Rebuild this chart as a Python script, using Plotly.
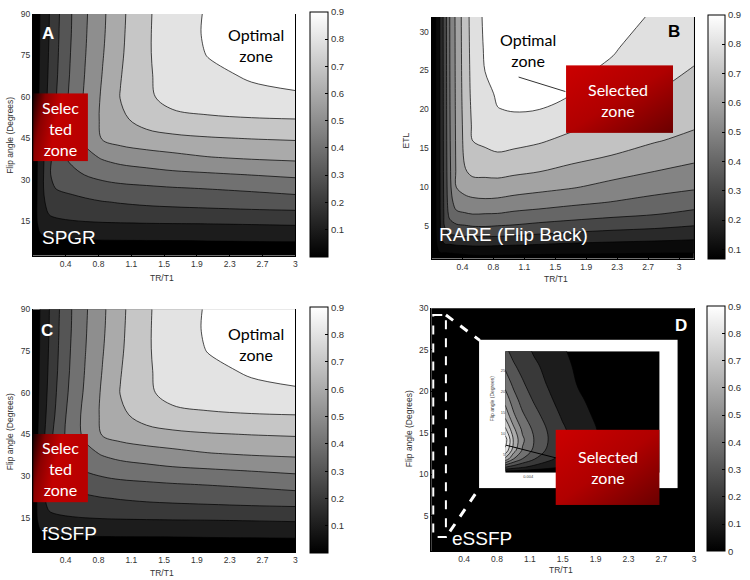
import base64
import plotly.graph_objects as go

W, H = 750, 580


def px(x):
    return x / W


def py(y):
    return 1 - y / H


# ---------------- data ----------------
tr_tickvals = [0.375, 0.75, 1.125, 1.5, 1.875, 2.25, 2.625, 3.0]
tr_ticktext = ["0.4", "0.8", "1.1", "1.5", "1.9", "2.3", "2.7", "3"]
flip_ticks = [15, 30, 45, 60, 75, 90]
etl_ticks = [5, 10, 15, 20, 25, 30]
essfp_ticks = [5, 10, 15, 20, 25, 30]
cbar_ticks = [0.1, 0.2, 0.3, 0.4, 0.5, 0.6, 0.7, 0.8, 0.9]
cbar_text = ["0.1", "0.2", "0.3", "0.4", "0.5", "0.6", "0.7", "0.8", "0.9"]
cbar_ticks_d = [0, 0.1, 0.2, 0.3, 0.4, 0.5, 0.6, 0.7, 0.8, 0.9]
cbar_text_d = ["0", "0.1", "0.2", "0.3", "0.4", "0.5", "0.6", "0.7", "0.8", "0.9"]
inset_xticks = [0.004]
inset_xtext = ["0.004"]
inset_yticks = [5, 10, 15, 20, 25]

# SPGR / fSSFP signal efficiency (TR/T1 vs flip angle)
spgr_x = [0, 0.05, 0.1, 0.2, 0.3, 0.45, 0.6, 0.8, 1.0, 1.3, 1.6, 2.0, 2.5, 3.0]
spgr_y = [2.5, 5, 8, 11, 14, 18, 22, 27, 32, 38, 45, 52, 60, 68, 76, 83, 90]
spgr_z = [
    [0, 0.015, 0.02, 0.025, 0.026, 0.027, 0.027, 0.028, 0.028, 0.028, 0.029, 0.029, 0.03, 0.03],
    [0, 0.035, 0.048, 0.055, 0.058, 0.06, 0.061, 0.062, 0.063, 0.064, 0.064, 0.065, 0.065, 0.066],
    [0, 0.05, 0.07, 0.08, 0.088, 0.092, 0.095, 0.097, 0.098, 0.099, 0.0998, 0.102, 0.104, 0.106],
    [0, 0.085, 0.112, 0.128, 0.136, 0.142, 0.146, 0.149, 0.151, 0.153, 0.154, 0.155, 0.157, 0.158],
    [0, 0.098, 0.13, 0.155, 0.168, 0.178, 0.184, 0.189, 0.192, 0.195, 0.197, 0.199, 0.203, 0.208],
    [0, 0.11, 0.16, 0.215, 0.232, 0.245, 0.255, 0.262, 0.266, 0.27, 0.273, 0.276, 0.28, 0.283],
    [0, 0.107, 0.192, 0.213, 0.235, 0.26, 0.28, 0.297, 0.305, 0.315, 0.322, 0.33, 0.342, 0.354],
    [0, 0.104, 0.177, 0.281, 0.315, 0.335, 0.35, 0.365, 0.375, 0.385, 0.395, 0.405, 0.42, 0.44],
    [0, 0.101, 0.171, 0.299, 0.329, 0.371, 0.405, 0.43, 0.45, 0.465, 0.48, 0.49, 0.505, 0.52],
    [0, 0.097, 0.166, 0.288, 0.367, 0.428, 0.468, 0.51, 0.535, 0.555, 0.572, 0.595, 0.61, 0.62],
    [0, 0.091, 0.156, 0.276, 0.362, 0.45, 0.523, 0.61, 0.64, 0.665, 0.68, 0.693, 0.703, 0.71],
    [0, 0.083, 0.147, 0.252, 0.345, 0.449, 0.528, 0.619, 0.681, 0.74, 0.77, 0.785, 0.795, 0.80],
    [0, 0.077, 0.137, 0.238, 0.328, 0.433, 0.515, 0.616, 0.703, 0.78, 0.84, 0.865, 0.88, 0.89],
    [0, 0.074, 0.131, 0.227, 0.315, 0.422, 0.505, 0.605, 0.695, 0.79, 0.833, 0.882, 0.91, 0.925],
    [0, 0.069, 0.126, 0.22, 0.307, 0.414, 0.497, 0.595, 0.686, 0.79, 0.846, 0.905, 0.925, 0.94],
    [0, 0.068, 0.123, 0.213, 0.301, 0.407, 0.492, 0.588, 0.681, 0.789, 0.85, 0.912, 0.93, 0.945],
    [0, 0.066, 0.121, 0.21, 0.297, 0.404, 0.488, 0.584, 0.677, 0.788, 0.847, 0.91, 0.925, 0.94],
]
fssfp_x = spgr_x
fssfp_y = spgr_y
fssfp_z = spgr_z

# RARE (flip back): TR/T1 vs echo train length
rare_x = [0, 0.04, 0.1, 0.16, 0.22, 0.3, 0.4, 0.5, 0.65, 0.8, 1.0, 1.3, 1.7, 2.2, 2.7, 3.18]
rare_y = [0.75, 1.5, 2.5, 3.5, 5, 6.5, 8, 10, 12, 14, 16, 18, 20, 22, 25, 28, 31.9]
rare_z = [
    [0.03, 0.03, 0.06, 0.07, 0.07, 0.07, 0.07, 0.075, 0.075, 0.075, 0.075, 0.073, 0.07, 0.07, 0.07, 0.07],
    [0.03, 0.05, 0.097, 0.098, 0.101, 0.105, 0.11, 0.115, 0.118, 0.115, 0.113, 0.11, 0.107, 0.105, 0.101, 0.1],
    [0.03, 0.065, 0.15, 0.19, 0.19, 0.2, 0.205, 0.21, 0.21, 0.205, 0.2, 0.192, 0.18, 0.172, 0.165, 0.16],
    [0.03, 0.07, 0.175, 0.25, 0.275, 0.28, 0.29, 0.29, 0.292, 0.29, 0.283, 0.27, 0.255, 0.24, 0.23, 0.217],
    [0.03, 0.075, 0.185, 0.31, 0.36, 0.386, 0.395, 0.405, 0.407, 0.4, 0.393, 0.376, 0.358, 0.337, 0.322, 0.3],
    [0.03, 0.076, 0.19, 0.325, 0.43, 0.48, 0.49, 0.5, 0.497, 0.495, 0.48, 0.466, 0.446, 0.424, 0.404, 0.375],
    [0.03, 0.077, 0.192, 0.33, 0.46, 0.539, 0.565, 0.575, 0.58, 0.575, 0.56, 0.543, 0.52, 0.495, 0.467, 0.44],
    [0.03, 0.078, 0.193, 0.335, 0.475, 0.602, 0.635, 0.653, 0.66, 0.66, 0.646, 0.63, 0.608, 0.57, 0.537, 0.514],
    [0.03, 0.078, 0.194, 0.338, 0.483, 0.61, 0.69, 0.725, 0.725, 0.73, 0.718, 0.702, 0.674, 0.636, 0.6, 0.571],
    [0.03, 0.079, 0.195, 0.34, 0.487, 0.613, 0.715, 0.77, 0.782, 0.79, 0.777, 0.76, 0.728, 0.697, 0.657, 0.625],
    [0.03, 0.079, 0.196, 0.341, 0.49, 0.615, 0.725, 0.802, 0.815, 0.83, 0.828, 0.811, 0.776, 0.737, 0.708, 0.675],
    [0.03, 0.079, 0.196, 0.342, 0.492, 0.617, 0.73, 0.815, 0.836, 0.865, 0.875, 0.857, 0.82, 0.778, 0.738, 0.712],
    [0.03, 0.08, 0.197, 0.343, 0.494, 0.619, 0.735, 0.822, 0.857, 0.898, 0.905, 0.901, 0.862, 0.816, 0.77, 0.736],
    [0.03, 0.08, 0.197, 0.344, 0.495, 0.62, 0.74, 0.828, 0.878, 0.91, 0.915, 0.912, 0.901, 0.84, 0.8, 0.759],
    [0.03, 0.08, 0.198, 0.346, 0.497, 0.622, 0.744, 0.833, 0.902, 0.92, 0.925, 0.922, 0.915, 0.888, 0.833, 0.794],
    [0.03, 0.08, 0.199, 0.348, 0.498, 0.623, 0.747, 0.837, 0.912, 0.928, 0.932, 0.93, 0.925, 0.907, 0.865, 0.825],
    [0.03, 0.08, 0.199, 0.35, 0.499, 0.625, 0.75, 0.841, 0.92, 0.935, 0.94, 0.94, 0.935, 0.918, 0.895, 0.87],
]

# eSSFP: whole map is ~0 at this scale
essfp_x = [0, 3]
essfp_y = [0.7, 30]
essfp_z = [[0, 0], [0, 0]]

# eSSFP zoomed inset
inset_x = [0, 0.0015, 0.003, 0.005, 0.0075, 0.01, 0.013, 0.018, 0.027]
inset_y = [0.7, 2, 4, 6, 8.5, 11, 14, 18, 22, 26, 29.5]
inset_z = [
    [0.02, 0.02, 0.02, 0.01, 0.01, 0, 0, 0, 0],
    [0.3, 0.25, 0.21, 0.17, 0.13, 0.09, 0.06, 0.03, 0],
    [0.68, 0.5, 0.4, 0.31, 0.23, 0.16, 0.11, 0.05, 0],
    [0.88, 0.64, 0.49, 0.38, 0.28, 0.2, 0.14, 0.065, 0],
    [0.95, 0.68, 0.52, 0.4, 0.3, 0.22, 0.15, 0.07, 0],
    [0.82, 0.62, 0.48, 0.38, 0.29, 0.215, 0.145, 0.07, 0],
    [0.68, 0.52, 0.42, 0.34, 0.26, 0.19, 0.13, 0.06, 0],
    [0.56, 0.44, 0.36, 0.29, 0.22, 0.16, 0.11, 0.05, 0],
    [0.46, 0.37, 0.31, 0.25, 0.19, 0.14, 0.09, 0.04, 0],
    [0.38, 0.31, 0.27, 0.22, 0.17, 0.125, 0.08, 0.035, 0],
    [0.32, 0.27, 0.24, 0.19, 0.15, 0.11, 0.07, 0.03, 0],
]

# ---------------- styles ----------------
gray_lin = [[0, "rgb(0,0,0)"], [1, "rgb(255,255,255)"]]
rare_levels_gray = [0, 0.038, 0.159, 0.279, 0.399, 0.519, 0.639, 0.76, 0.88, 1.0]
rare_scale = [[k / 9, "rgb({0},{0},{0})".format(int(round(v * 255)))] for k, v in enumerate(rare_levels_gray)]

TICK_FONT = dict(family="Liberation Sans, Arial, sans-serif", size=8.5, color="#333")
CB_FONT = dict(family="Liberation Sans, Arial, sans-serif", size=9.5, color="#333")
LEVELS = dict(start=0.1, end=0.9, size=0.1, coloring="fill", showlines=True)

fig = go.Figure()


def add_contour(x, y, z, xa, ya, cs):
    fig.add_trace(go.Contour(
        x=x, y=y, z=z, xaxis=xa, yaxis=ya, colorscale=cs, contours=LEVELS,
        line=dict(color="black", width=0.7), showscale=False, hoverinfo="skip"))


def add_cbar(xa, ya, x0, x1, ytop, ybot, cmin, cmax, tv, tt):
    fig.add_trace(go.Scatter(
        x=[None], y=[None], xaxis=xa, yaxis=ya, mode="markers", hoverinfo="skip", showlegend=False,
        marker=dict(color=[cmin], colorscale=gray_lin, cmin=cmin, cmax=cmax, showscale=True,
                    colorbar=dict(x=px(x0), xanchor="left", y=py(ybot), yanchor="bottom",
                                  len=ybot - ytop, lenmode="pixels", thickness=x1 - x0,
                                  thicknessmode="pixels", xpad=0, ypad=0, outlinewidth=1,
                                  outlinecolor="black", tickvals=tv, ticktext=tt, ticks="inside",
                                  ticklen=3, tickcolor="black", tickfont=CB_FONT))))


add_contour(spgr_x, spgr_y, spgr_z, "x", "y", gray_lin)
add_cbar("x", "y", 311, 329, 9, 254, 0, 0.9, cbar_ticks, cbar_text)
add_contour(rare_x, rare_y, rare_z, "x2", "y2", rare_scale)
add_cbar("x2", "y2", 711, 728, 12, 256, 0.068, 0.9, cbar_ticks, cbar_text)
add_contour(fssfp_x, fssfp_y, fssfp_z, "x3", "y3", gray_lin)
add_cbar("x3", "y3", 311, 329, 307, 553, 0, 0.9, cbar_ticks, cbar_text)
fig.add_trace(go.Heatmap(
    x=essfp_x, y=essfp_y, z=essfp_z, xaxis="x4", yaxis="y4", colorscale=gray_lin, zmin=0, zmax=0.9,
    hoverinfo="skip", showscale=True,
    colorbar=dict(x=px(710), xanchor="left", y=py(551), yanchor="bottom", len=245, lenmode="pixels",
                  thickness=18, thicknessmode="pixels", xpad=0, ypad=0, outlinewidth=1,
                  outlinecolor="black", tickvals=cbar_ticks_d, ticktext=cbar_text_d, ticks="inside",
                  ticklen=3, tickcolor="black", tickfont=CB_FONT)))
add_contour(inset_x, inset_y, inset_z, "x5", "y5", gray_lin)


def xax(l, r, rng, anchor):
    return dict(domain=[px(l), px(r)], range=rng, anchor=anchor, tickvals=tr_tickvals, ticktext=tr_ticktext,
                ticks="inside", ticklen=3, tickcolor="black", showline=True, linecolor="black", linewidth=1,
                mirror=False, showgrid=False, zeroline=False, tickfont=TICK_FONT)


def yax(t, b, rng, anchor, tv):
    return dict(domain=[py(b), py(t)], range=rng, anchor=anchor, tickvals=tv,
                ticks="inside", ticklen=3, tickcolor="black", showline=True, linecolor="black", linewidth=1,
                mirror=True, showgrid=False, zeroline=False, tickfont=TICK_FONT)


# inset ranges so that data area maps to the inner plot of the white frame
in_l, in_r, in_t, in_b = 507.3, 662.3, 349.3, 471.7
fr_l, fr_r, fr_t, fr_b = 481, 680.3, 337.7, 487.3
sx = (in_r - in_l) / (inset_x[-1] - inset_x[0])
sy = (in_b - in_t) / (inset_y[-1] - inset_y[0])
inset_xr = [inset_x[0] - (in_l - fr_l) / sx, inset_x[-1] + (fr_r - in_r) / sx]
inset_yr = [inset_y[0] - (fr_b - in_b) / sy, inset_y[-1] + (in_t - fr_t) / sy]

fig.update_layout(
    width=W, height=H, margin=dict(l=0, r=0, t=0, b=0),
    paper_bgcolor="white", plot_bgcolor="white", showlegend=False, hovermode=False,
    xaxis=xax(33, 296.5, [0, 3], "y"),
    yaxis=yax(9, 253, [2.5, 90], "x", flip_ticks),
    xaxis2=xax(433.3, 696.7, [0, 3.18], "y2"),
    yaxis2=yax(12, 256, [0.75, 31.9], "x2", etl_ticks),
    xaxis3=xax(33, 296.5, [0, 3], "y3"),
    yaxis3=yax(307, 552, [2.5, 90], "x3", flip_ticks),
    xaxis4=xax(433, 697, [0, 3], "y4"),
    yaxis4=yax(306, 551, [0.7, 30], "x4", essfp_ticks),
    xaxis5=dict(domain=[px(fr_l), px(fr_r)], range=inset_xr, anchor="free", position=py(in_b),
                tickvals=inset_xticks, ticktext=inset_xtext, showline=False, showgrid=False,
                zeroline=False, ticks="", tickfont=dict(family="Liberation Sans", size=4, color="#444")),
    yaxis5=dict(domain=[py(fr_b), py(fr_t)], range=inset_yr, anchor="free", position=px(in_l),
                tickvals=inset_yticks, showline=False, showgrid=False, zeroline=False, ticks="",
                tickfont=dict(family="Liberation Sans", size=4, color="#444")),
)


def svg_uri(grad):
    svg = ('<svg xmlns="http://www.w3.org/2000/svg" width="100" height="100" viewBox="0 0 100 100" '
           'preserveAspectRatio="none"><defs>' + grad + '</defs>'
           '<rect x="0" y="0" width="100" height="100" fill="url(#g)"/></svg>')
    return "data:image/svg+xml;base64," + base64.b64encode(svg.encode()).decode()


grad_side = ('<linearGradient id="g" x1="0" y1="0" x2="1" y2="0.25">'
             '<stop offset="0" stop-color="#140000"/><stop offset="0.22" stop-color="#8a0000"/>'
             '<stop offset="0.5" stop-color="#c20000"/><stop offset="1" stop-color="#b80000"/></linearGradient>')
grad_diag = ('<linearGradient id="g" x1="0" y1="0" x2="1" y2="1">'
             '<stop offset="0" stop-color="#cc0000"/><stop offset="0.5" stop-color="#b00000"/>'
             '<stop offset="1" stop-color="#6a0000"/></linearGradient>')


def box_image(l, t, r, b, grad):
    return dict(source=svg_uri(grad), xref="paper", yref="paper", x=px(l), y=py(t),
                sizex=(r - l) / W, sizey=(b - t) / H, xanchor="left", yanchor="top",
                sizing="stretch", layer="above")


fig.update_layout(images=[
    box_image(33.3, 89, 88.3, 157.7, grad_side),
    box_image(568.3, 60.7, 675.7, 129, grad_diag),
    box_image(33.3, 432.7, 88.3, 501.7, grad_side),
    box_image(557.7, 428.3, 662.3, 504.3, grad_diag),
])


def line(x0, y0, x1, y1, color, width, dash="solid"):
    return dict(type="line", xref="paper", yref="paper", x0=px(x0), y0=py(y0), x1=px(x1), y1=py(y1),
                line=dict(color=color, width=width, dash=dash), layer="above")


fig.update_layout(shapes=[
    line(520.7, 72.7, 567.7, 87.3, "#333", 1),
    dict(type="rect", xref="paper", yref="paper", x0=px(435), y0=py(312.7), x1=px(447.7), y1=py(536.7),
         line=dict(color="white", width=2, dash="dash"), layer="above"),
    line(447.7, 312.7, 481.7, 338.3, "white", 3, "dash"),
    line(451.7, 531, 481.7, 486.7, "white", 3, "dash"),
    line(508, 444, 557.7, 456.7, "black", 1),
])

CAL = "Lato, Calibri, sans-serif"
ARI = "Liberation Sans, Arial, sans-serif"


def ann(x, y, text, size, color, family, xanchor="center", angle=0):
    return dict(x=px(x), y=py(y), xref="paper", yref="paper", text=text, showarrow=False,
                font=dict(size=size, color=color, family=family), xanchor=xanchor, yanchor="middle",
                textangle=angle, align="center")


fig.update_layout(annotations=[
    # panel letters
    ann(48.3, 29.2, "<b>A</b>", 17, "white", ARI),
    ann(677, 26.7, "<b>B</b>", 17, "black", ARI),
    ann(46.7, 328, "<b>C</b>", 17, "white", ARI),
    ann(684, 323.3, "<b>D</b>", 17, "white", ARI),
    # optimal zones
    ann(257.5, 40.5, "Optimal<br>zone", 16, "black", CAL),
    ann(530, 45, "Optimal<br>zone", 16, "black", CAL),
    ann(257.5, 341.7, "Optimal<br>zone", 16, "black", CAL),
    # selected zones
    ann(61, 124.3, "Selec<br>ted<br>zone", 16, "white", CAL),
    ann(620, 95.5, "Selected<br>zone", 16, "white", CAL),
    ann(61, 468, "Selec<br>ted<br>zone", 16, "white", CAL),
    ann(610, 466.2, "Selected<br>zone", 16, "white", CAL),
    # sequence names
    ann(40, 235, "SPGR", 19, "white", ARI, "left"),
    ann(439, 231.7, "RARE (Flip Back)", 19, "white", ARI, "left"),
    ann(40, 533.3, "fSSFP", 19, "white", ARI, "left"),
    ann(452, 538, "eSSFP", 19, "white", ARI, "left"),
    # axis titles
    ann(162.5, 275, "TR/T1", 8.5, "#333", ARI),
    ann(558.3, 276.7, "TR/T1", 8.5, "#333", ARI),
    ann(162.5, 573.3, "TR/T1", 8.5, "#333", ARI),
    ann(563.3, 570, "TR/T1", 8.5, "#333", ARI),
    ann(10, 131, "Flip angle (Degrees)", 8.5, "#333", ARI, angle=-90),
    ann(407.5, 136.7, "ETL", 8.5, "#333", ARI, angle=-90),
    ann(10, 430, "Flip angle (Degrees)", 8.5, "#333", ARI, angle=-90),
    ann(410, 427.5, "Flip angle (Degrees)", 8.5, "#333", ARI, angle=-90),
    ann(494, 396.7, "Flip angle (Degrees)", 5, "#444", ARI, angle=-90),
])

fig.write_html("out.html", config={"displayModeBar": False, "staticPlot": True},
               post_script="document.body.style.margin='0';document.body.style.padding='0';")
